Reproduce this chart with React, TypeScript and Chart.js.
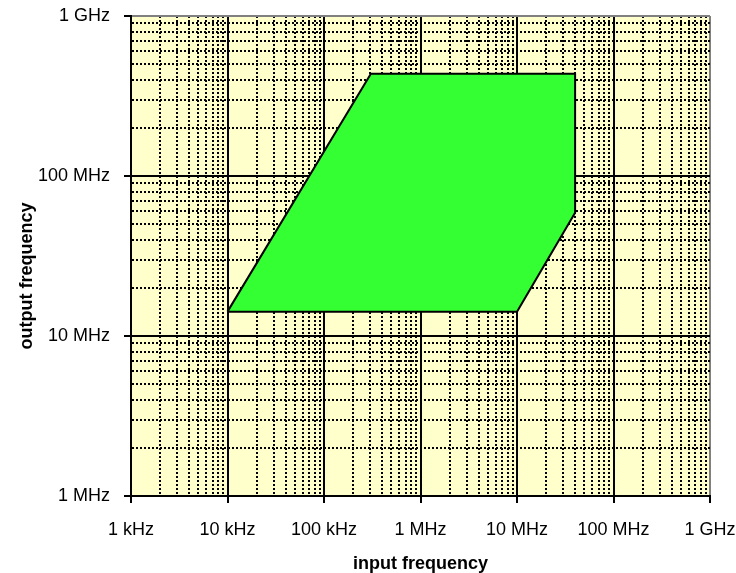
import React, { useEffect, useRef } from 'react';
import { Chart, registerables } from 'chart.js';

Chart.register(...registerables);

// Axis decades and their labels
const xDecades = [1e3, 1e4, 1e5, 1e6, 1e7, 1e8, 1e9];
const xTickLabels = ['1 kHz', '10 kHz', '100 kHz', '1 MHz', '10 MHz', '100 MHz', '1 GHz'];
const yDecades = [1e6, 1e7, 1e8, 1e9];
const yTickLabels = ['1 MHz', '10 MHz', '100 MHz', '1 GHz'];

// Mantissas used for the minor grid inside each decade
const minorSteps = [1, 2, 3, 4, 5, 6, 7, 8, 9];

// Operating region outline (input frequency, output frequency), closed
const regionInput = [1e4, 3.06e5, 4.0e7, 4.0e7, 1.0e7, 1e4];
const regionOutput = [1.42e7, 4.35e8, 4.35e8, 5.9e7, 1.42e7, 1.42e7];

const FONT = '"Liberation Sans", Arial, Helvetica, sans-serif';
const PLOT_BG = '#FFFFCC';
const FRAME_GREY = '#808080';

function gridValues(decades: number[]): number[] {
  const out: number[] = [];
  decades.forEach((d, i) => {
    if (i < decades.length - 1) minorSteps.forEach((m) => out.push(d * m));
    else out.push(d);
  });
  return out;
}

function logAxis(decades: number[], labels: string[], size: { width?: number; height?: number }, padding: number) {
  const isMajor = (v: number) => decades.indexOf(v) >= 0;
  const max = decades[decades.length - 1];
  return {
    type: 'logarithmic' as const,
    min: decades[0],
    max,
    afterBuildTicks: (s: any) => {
      s.ticks = gridValues(decades).map((v) => ({ value: v }));
    },
    afterFit: (s: any) => {
      if (size.width !== undefined) s.width = size.width;
      if (size.height !== undefined) s.height = size.height;
      // labels at the ends may overhang the plot area
      s.paddingLeft = 0;
      s.paddingRight = 0;
      s.paddingTop = 0;
      s.paddingBottom = 0;
    },
    ticks: {
      autoSkip: false,
      maxRotation: 0,
      minRotation: 0,
      color: '#000',
      padding,
      font: { family: FONT, size: 18 },
      callback: (v: any) => {
        const i = decades.indexOf(Number(v));
        return i >= 0 ? labels[i] : '';
      },
    },
    grid: {
      color: (c: any) => (c.tick && c.tick.value === max ? FRAME_GREY : '#000'),
      lineWidth: 2,
      drawTicks: true,
      tickLength: 7,
      tickWidth: 2,
      tickColor: (c: any) => (c.tick && isMajor(c.tick.value) ? '#000' : 'rgba(0,0,0,0)'),
    },
    border: {
      display: true,
      color: '#000',
      width: 2,
      dash: (c: any) => (c.tick && !isMajor(c.tick.value) ? [2, 2] : []),
    },
  };
}

const plotBackground = {
  id: 'plotBackground',
  beforeDraw(chart: any) {
    const { ctx, chartArea: a } = chart;
    ctx.save();
    ctx.fillStyle = PLOT_BG;
    ctx.fillRect(a.left, a.top, a.right - a.left, a.bottom - a.top);
    ctx.restore();
  },
};

const axisTitles = {
  id: 'axisTitles',
  afterDraw(chart: any) {
    const { ctx, chartArea: a } = chart;
    ctx.save();
    ctx.fillStyle = '#000';
    ctx.font = `bold 18px ${FONT}`;
    ctx.textAlign = 'center';
    ctx.textBaseline = 'alphabetic';
    ctx.fillText('input frequency', (a.left + a.right) / 2, 569);
    ctx.translate(32, 276);
    ctx.rotate(-Math.PI / 2);
    ctx.fillText('output frequency', 0, 0);
    ctx.restore();
  },
};

export default function App() {
  const canvasRef = useRef<HTMLCanvasElement | null>(null);

  useEffect(() => {
    if (!canvasRef.current) return;
    const chart = new Chart(canvasRef.current, {
      type: 'line',
      data: {
        datasets: [
          {
            label: 'region',
            data: regionInput.map((x, i) => ({ x, y: regionOutput[i] })),
            fill: 'shape',
            backgroundColor: '#33FF33',
            borderColor: '#000',
            borderWidth: 2,
            pointRadius: 0,
            tension: 0,
          },
        ],
      },
      options: {
        responsive: false,
        animation: false,
        layout: { padding: { top: 16, right: 26, left: 0, bottom: 0 } },
        plugins: {
          legend: { display: false },
          tooltip: { enabled: false },
          title: { display: false },
        },
        scales: {
          x: logAxis(xDecades, xTickLabels, { height: 77 }, 16),
          y: logAxis(yDecades, yTickLabels, { width: 131 }, 14),
        },
      } as any,
      plugins: [plotBackground, axisTitles],
    });
    return () => chart.destroy();
  }, []);

  return (
    <div style={{ position: 'absolute', left: 0, top: 0, width: 736, height: 573, background: '#fff' }}>
      <canvas ref={canvasRef} width={736} height={573} style={{ display: 'block' }} />
    </div>
  );
}
